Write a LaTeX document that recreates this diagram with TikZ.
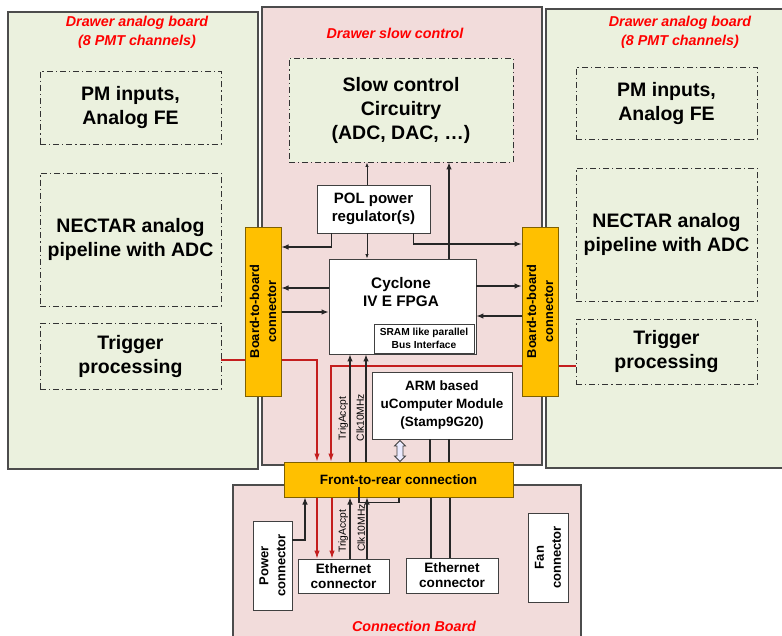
\documentclass[tikz,border=0pt]{standalone}
\usepackage{fontspec}
\setmainfont{Liberation Sans}
\usetikzlibrary{arrows.meta,shapes.arrows,positioning}

\definecolor{boardgreen}{HTML}{EBF1DE}
\definecolor{boardpink}{HTML}{F2DCDB}
\definecolor{connorange}{HTML}{FFC000}
\definecolor{connedge}{HTML}{7F6000}
\definecolor{trigred}{HTML}{C41E1E}
\definecolor{edgegray}{HTML}{404040}

\tikzset{
  board/.style={draw=gray!60!black, line width=1.1pt, inner sep=0pt},
  blockbox/.style={draw=edgegray, fill=white, line width=0.9pt, align=center, inner sep=1pt,
    font=\fontsize{13.5}{18}\selectfont\bfseries},
  dashbox/.style={draw=black!80, line width=0.9pt, dash pattern=on 6pt off 3pt on 1.2pt off 3pt,
    align=center, font=\fontsize{19.5}{24}\selectfont\bfseries},
  connbox/.style={draw=connedge, fill=connorange, line width=1pt, align=center,
    font=\fontsize{13.5}{16}\selectfont\bfseries},
  vtext/.style={rotate=90, align=center, font=\fontsize{12.8}{17}\selectfont\bfseries},
  boardtitle/.style={text=red, align=center, font=\fontsize{14.3}{19}\selectfont\bfseries\itshape},
  sig/.style={draw=black!85, line width=1.1pt, -{Latex[length=7pt,width=5.5pt]}},
  sigsmall/.style={draw=black!85, line width=0.8pt, -{Latex[length=4.5pt,width=3.5pt]}},
  wire/.style={draw=black!85, line width=1.1pt},
  trigline/.style={draw=trigred, line width=1.1pt},
  trigarrow/.style={trigline, -{Latex[length=8pt,width=5.5pt]}},
  siglabel/.style={font=\fontsize{10.3}{12}\selectfont, rotate=90, anchor=south, inner sep=1.5pt},
  busarrow/.style={double arrow, draw=edgegray, fill=blue!8, line width=0.8pt, rotate=90,
    minimum height=21pt, inner sep=2.6pt, double arrow head extend=2.5pt}
}

\begin{document}
\begin{tikzpicture}[x=1pt,y=-1pt]
\useasboundingbox (0,0) rectangle (782,635);
\clip (0,0) rectangle (782,635);

% boards
\node[board, fill=boardgreen, minimum width=250pt, minimum height=457pt] (anaL) at (133,240.5) {};
\node[board, fill=boardpink, minimum width=280pt, minimum height=458pt] (slow) at (402,236) {};
\node[board, fill=boardgreen, minimum width=244pt, minimum height=459pt] (anaR) at (668,238.5) {};
\node[board, fill=boardpink, minimum width=348pt, minimum height=160pt] (rear) at (407,565) {};

\node[boardtitle] (anaLtitle) at (137,32.5) {Drawer analog board\\(8 PMT channels)};
\node[boardtitle] (slowtitle) at (395,33) {Drawer slow control};
\node[boardtitle] (anaRtitle) at (680,32.5) {Drawer analog board\\(8 PMT channels)};
\node[boardtitle] (reartitle) at (414,626) {Connection Board};

% analog boards
\node[dashbox, minimum width=181pt, minimum height=73pt] (pmL) at (130.5,107.5) {PM inputs,\\Analog FE};
\node[dashbox, minimum width=181pt, minimum height=133pt] (nectarL) at (130.5,239.5) {NECTAR analog\\pipeline with ADC};
\node[dashbox, minimum width=181pt, minimum height=66pt] (trigL) at (130.5,356) {Trigger\\processing};
\node[dashbox, minimum width=181pt, minimum height=72pt] (pmR) at (666.5,103) {PM inputs,\\Analog FE};
\node[dashbox, minimum width=181pt, minimum height=133pt] (nectarR) at (666.5,234.5) {NECTAR analog\\pipeline with ADC};
\node[dashbox, minimum width=181pt, minimum height=65pt] (trigR) at (666.5,351.5) {Trigger\\processing};

% slow control
\node[dashbox, fill=boardgreen, minimum width=224pt, minimum height=104pt] (sc) at (401,110) {Slow control\\Circuitry\\(ADC, DAC, …)};
\node[blockbox, font=\fontsize{15}{18}\selectfont\bfseries, minimum width=113pt, minimum height=48pt] (pol) at (373.5,209) {POL power\\regulator(s)};
\node[blockbox, minimum width=147pt, minimum height=95pt] (fpga) at (402.5,306.5) {};
\node[font=\fontsize{15.3}{18}\selectfont\bfseries, align=center] (fpgatxt) at (401,292) {Cyclone\\IV E FPGA};
\node[blockbox, font=\fontsize{10.2}{12.7}\selectfont\bfseries, minimum width=100pt, minimum height=29pt] (sram) at (424,338.5) {SRAM like parallel\\Bus Interface};
\node[blockbox, minimum width=140pt, minimum height=67pt] (arm) at (442,405.5) {ARM based\\uComputer Module\\(Stamp9G20)};

\node[connbox, minimum width=36pt, minimum height=169pt] (b2bL) at (263,311.5) {};
\node[vtext] (b2bLtxt) at (b2bL) {Board-to-board\\connector};
\node[connbox, minimum width=36pt, minimum height=169pt] (b2bR) at (540,311.5) {};
\node[vtext] (b2bRtxt) at (b2bR) {Board-to-board\\connector};
\node[connbox, minimum width=229pt, minimum height=35pt] (f2r) at (398.5,479.5) {Front-to-rear connection};

% connection board
\node[blockbox, minimum width=39pt, minimum height=89pt] (power) at (272.5,565.5) {};
\node[vtext, font=\fontsize{13}{17}\selectfont\bfseries] (powertxt) at (power) {Power\\connector};
\node[blockbox, font=\fontsize{13.6}{15}\selectfont\bfseries, minimum width=91pt, minimum height=34pt] (eth1) at (343.5,576) {Ethernet\\connector};
\node[blockbox, font=\fontsize{13.6}{15}\selectfont\bfseries, minimum width=92pt, minimum height=35pt] (eth2) at (452,575.5) {Ethernet\\connector};
\node[blockbox, minimum width=40pt, minimum height=89pt] (fan) at (548,557.5) {};
\node[vtext, font=\fontsize{13}{17}\selectfont\bfseries] (fantxt) at (fan) {Fan\\connector};

% power and slow control links
\draw[sigsmall] ([xshift=-6.5pt]pol.north) -- ([xshift=-6.5pt]pol.north |- sc.south);
\draw[sig] ([xshift=46.5pt]fpga.north) -- ([xshift=46.5pt]fpga.north |- sc.south);
\draw[sig] ([xshift=15pt]pol.south west) |- ([yshift=64.5pt]b2bL.east);
\draw[sigsmall] ([xshift=-6.5pt]pol.south) -- ([xshift=-6.5pt]pol.south |- fpga.north);
\draw[sig] ([xshift=-17pt]pol.south east) |- ([yshift=67.5pt]b2bR.west);

% fpga to board connectors
\draw[sig] ([yshift=18.5pt]fpga.west) -- ([yshift=18.5pt]fpga.west -| b2bL.east);
\draw[sig] ([yshift=-5.5pt]fpga.west -| b2bL.east) -- ([yshift=-5.5pt]fpga.west);
\draw[sig] ([yshift=20.5pt]fpga.east) -- ([yshift=20.5pt]fpga.east -| b2bR.west);
\draw[sig] ([yshift=-9.5pt]fpga.east -| b2bR.west) -- ([yshift=-9.5pt]fpga.east);

% trigger lines
\draw[trigline] ([yshift=-4pt]trigL.east) -- ([yshift=-4pt]trigL.east -| b2bL.west);
\draw[trigarrow] ([yshift=-48.5pt]b2bL.east) -| ([xshift=-81.5pt]f2r.north);
\draw[trigline] ([yshift=-14.5pt]trigR.west) -- ([yshift=-14.5pt]trigR.west -| b2bR.east);
\draw[trigarrow] ([yshift=-54.5pt]b2bR.west) -| ([xshift=-67.5pt]f2r.north);

\draw[sig] ([xshift=-48.5pt]f2r.north) -- ([xshift=-48.5pt]f2r.north |- fpga.south) node[siglabel, pos=0.4] (trigtxt) {TrigAccpt};
\draw[sig] ([xshift=-32.5pt]f2r.north) -- ([xshift=-32.5pt]f2r.north |- fpga.south) node[siglabel, pos=0.41] (clktxt) {Clk10MHz};

% arm module
\node[busarrow] (armbus) at (400,451) {};
\draw[wire] ([xshift=-12pt]arm.south) -- ([xshift=-12pt]arm.south |- f2r.north);
\draw[wire] ([xshift=7pt]arm.south) -- ([xshift=7pt]arm.south |- f2r.north);

% rear side
\draw[sig] ([yshift=25.5pt]power.east) -| ([xshift=-93.5pt]f2r.south);
\draw[trigarrow] ([xshift=-81.5pt]f2r.south) -- ([xshift=-81.5pt]f2r.south |- eth1.north);
\draw[trigarrow] ([xshift=-66.5pt]f2r.south) -- ([xshift=-66.5pt]f2r.south |- eth1.north);
\draw[wire] ([xshift=-39.5pt,yshift=11pt]f2r.south) |- ([xshift=0.5pt,yshift=-5pt]f2r.south) -- ([xshift=0.5pt]f2r.south);
\draw[sig] ([xshift=6.5pt]eth1.north) -- ([xshift=6.5pt]eth1.north |- f2r.south) node[siglabel, pos=0.45] (trigtxt2) {TrigAccpt};
\draw[sig] ([xshift=23.5pt]eth1.north) -- ([xshift=23.5pt]eth1.north |- f2r.south) node[siglabel, pos=0.5] (clktxt2) {Clk10MHz};
\draw[wire] ([xshift=-21pt]eth2.north) -- ([xshift=-21pt]eth2.north |- f2r.south);
\draw[wire] ([xshift=-2pt]eth2.north) -- ([xshift=-2pt]eth2.north |- f2r.south);

\end{tikzpicture}
\end{document}
